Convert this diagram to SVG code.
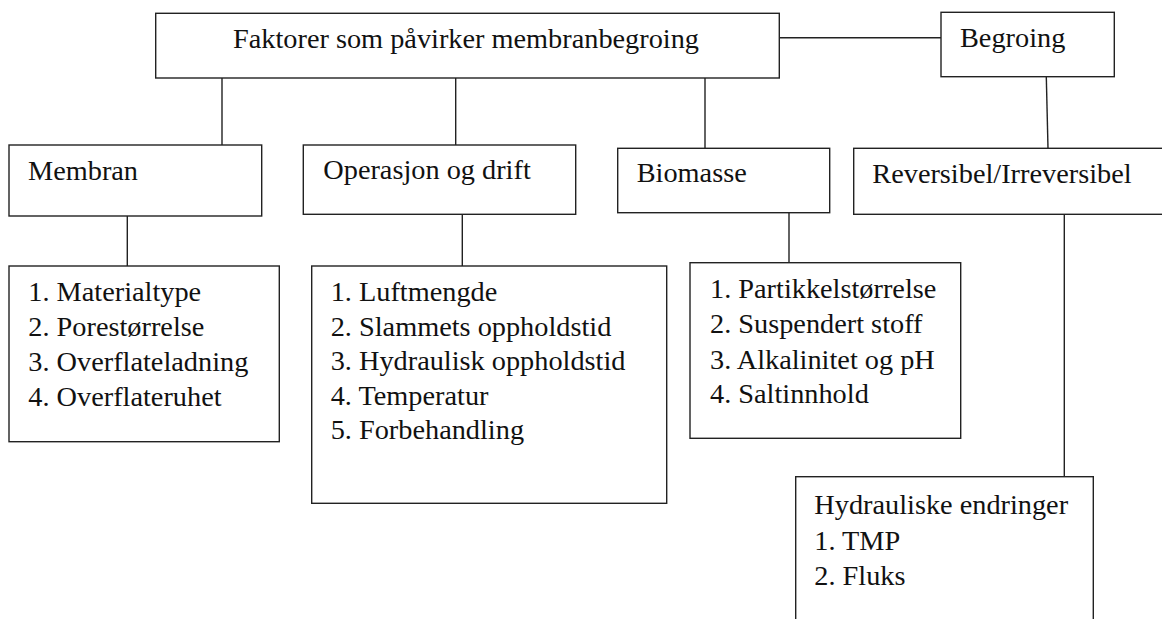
<svg xmlns="http://www.w3.org/2000/svg" width="1162" height="619" viewBox="0 0 1162 619">
<style>
.box{fill:#fff;stroke:#222;stroke-width:1.4}
.ln{fill:none;stroke:#222;stroke-width:1.4}
.t{font-family:'Liberation Serif','Times New Roman',serif;font-size:28.3px;fill:#111}
</style>
<rect width="1162" height="619" fill="#fff"/>
<g id="connectors">
<line class="ln" x1="779.3" y1="37.7" x2="941" y2="37.7"/>
<line class="ln" x1="222" y1="78" x2="222" y2="145"/>
<line class="ln" x1="455.7" y1="78" x2="455.7" y2="145"/>
<line class="ln" x1="705" y1="78" x2="705" y2="148.3"/>
<line class="ln" x1="1046.3" y1="76.7" x2="1048" y2="148.3"/>
<line class="ln" x1="127.3" y1="216" x2="127.3" y2="266"/>
<line class="ln" x1="462.3" y1="214.3" x2="462.3" y2="266"/>
<line class="ln" x1="789" y1="212.7" x2="789" y2="262.7"/>
<line class="ln" x1="1064.3" y1="214.3" x2="1064.3" y2="476.7"/>
</g>
<g class="t">
<g id="root">
<rect class="box" x="155.7" y="13.3" width="623.6" height="64.7"/>
<text x="233" y="48.3">Faktorer som påvirker membranbegroing</text>
</g>
<g id="begroing">
<rect class="box" x="941" y="12.3" width="173.3" height="64.4"/>
<text x="960" y="46.7">Begroing</text>
</g>
<g id="membran">
<rect class="box" x="9" y="145" width="252.7" height="71"/>
<text x="28" y="180">Membran</text>
</g>
<g id="operasjon">
<rect class="box" x="303.3" y="145" width="272.4" height="69.3"/>
<text x="323.3" y="179.3">Operasjon og drift</text>
</g>
<g id="biomasse">
<rect class="box" x="617.7" y="148.3" width="212" height="64.4"/>
<text x="636.7" y="181.7">Biomasse</text>
</g>
<g id="reversibel">
<rect class="box" x="853.7" y="148.3" width="320" height="66"/>
<text x="872.3" y="182.7">Reversibel/Irreversibel</text>
</g>
<g id="membran-list">
<rect class="box" x="9" y="266" width="270.3" height="175.7"/>
<text x="28.3" y="300.7">1. Materialtype</text>
<text x="28.3" y="335.7">2. Porestørrelse</text>
<text x="28.3" y="370.7">3. Overflateladning</text>
<text x="28.3" y="405.7">4. Overflateruhet</text>
</g>
<g id="operasjon-list">
<rect class="box" x="311.7" y="266" width="355" height="237.3"/>
<text x="330.7" y="301">1. Luftmengde</text>
<text x="330.7" y="335.5">2. Slammets oppholdstid</text>
<text x="330.7" y="370">3. Hydraulisk oppholdstid</text>
<text x="330.7" y="404.5">4. Temperatur</text>
<text x="330.7" y="439">5. Forbehandling</text>
</g>
<g id="biomasse-list">
<rect class="box" x="690" y="262.7" width="270.7" height="175.6"/>
<text x="710" y="298.3">1. Partikkelstørrelse</text>
<text x="710" y="333.3">2. Suspendert stoff</text>
<text x="710" y="368.5">3. Alkalinitet og pH</text>
<text x="710" y="403.3">4. Saltinnhold</text>
</g>
<g id="hydrauliske">
<rect class="box" x="795.7" y="476.7" width="297.6" height="160"/>
<text x="814.3" y="514">Hydrauliske endringer</text>
<text x="814.3" y="549.5">1. TMP</text>
<text x="814.3" y="584.5">2. Fluks</text>
</g>
</g>
</svg>
